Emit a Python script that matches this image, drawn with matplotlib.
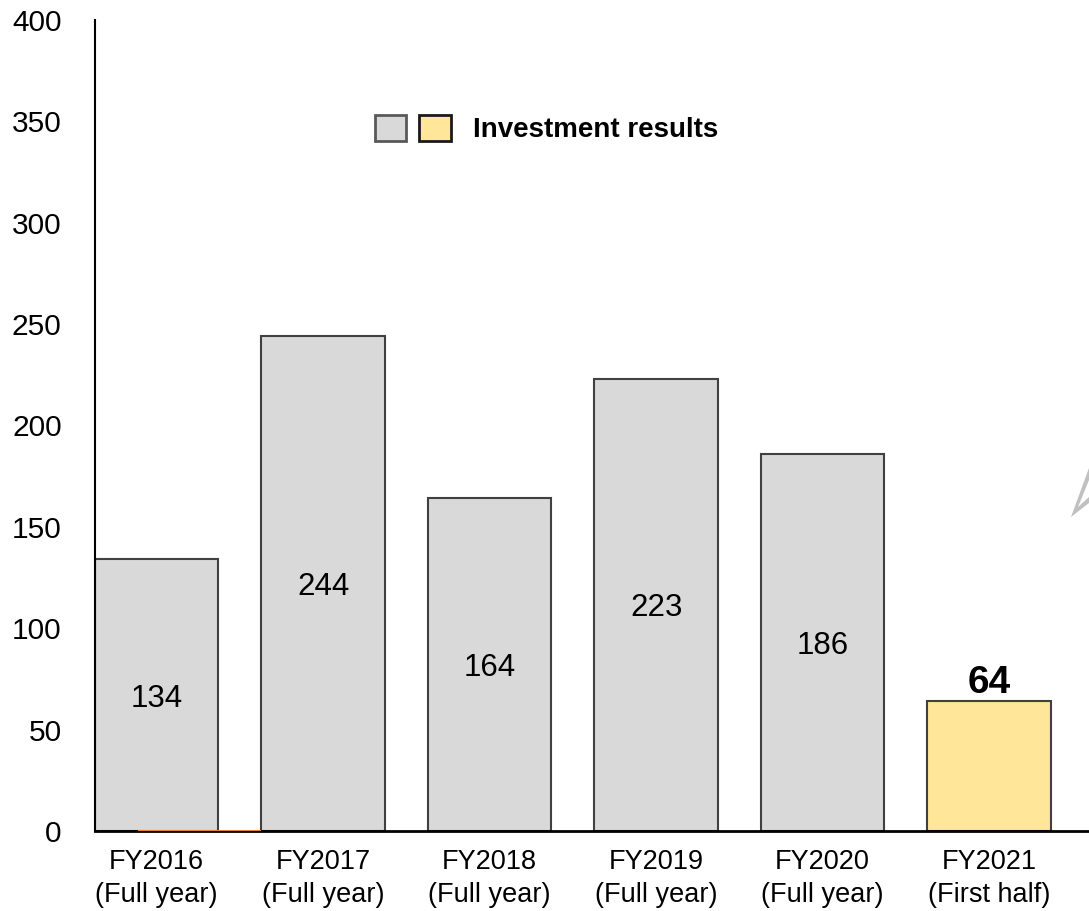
import matplotlib.pyplot as plt
from matplotlib.patches import Patch, Polygon
from matplotlib.legend_handler import HandlerTuple

plt.rcParams['font.family'] = ['Liberation Sans', 'DejaVu Sans']

years = ['FY2016', 'FY2017', 'FY2018', 'FY2019', 'FY2020', 'FY2021']
periods = ['(Full year)', '(Full year)', '(Full year)', '(Full year)', '(Full year)', '(First half)']
results = [134, 244, 164, 223, 186, 64]
other = [0.6, 0, 0, 0, 0, 0]   # thin orange sliver next to FY2016

grey = '#d9d9d9'
yellow = '#ffe699'
edge = '#404040'

fig = plt.figure(figsize=(10.89, 9.11), dpi=100)
ax = fig.add_axes([95 / 1089, 80 / 911, 994 / 1089, 811 / 911])

x = list(range(len(years)))
colors = [grey] * 5 + [yellow]
ax.bar(x, results, width=0.74, color=colors, edgecolor=edge, linewidth=1.5, zorder=2)
ax.bar([i + 0.26 for i in x], other, width=0.74, color='#ed7d31', linewidth=0, zorder=3)

for i, v in enumerate(results):
    if i < 5:
        ax.text(i, v / 2, str(v), ha='center', va='center_baseline', fontsize=22.5, zorder=4)
    else:
        ax.text(i, v + 4, str(v), ha='center', va='baseline', fontsize=28,
                fontweight='bold', zorder=4)

ax.set_xlim(-0.37, 5.6)
ax.set_ylim(0, 400)
ax.set_yticks(range(0, 401, 50))
ax.set_xticks(x)
ax.set_xticklabels([f'{y}\n{p}' for y, p in zip(years, periods)], fontsize=19.5,
                   linespacing=1.35)
ax.tick_params(axis='y', length=0, pad=24, labelsize=21.5)
ax.tick_params(axis='x', length=0, pad=13)
ax.spines['top'].set_visible(False)
ax.spines['right'].set_visible(False)
ax.spines['left'].set_linewidth(1.5)
ax.spines['bottom'].set_linewidth(2)

h1 = Patch(facecolor=grey, edgecolor='#595959', linewidth=2)
h2 = Patch(facecolor=yellow, edgecolor='#1a1a1a', linewidth=2)
fig.legend(handles=[(h1, h2)], labels=['Investment results'],
           handler_map={tuple: HandlerTuple(ndivide=None, pad=0.47)},
           loc='center left', bbox_to_anchor=(375 / 1089, 1 - 129 / 911),
           bbox_transform=fig.transFigure, frameon=False, borderpad=0,
           borderaxespad=0, handlelength=2.73, handleheight=1.08,
           handletextpad=0.79, prop={'size': 20, 'weight': 'bold'})

# clipped grey arrow shape at right edge
pts = [(1071, 517), (1089, 468), (1089, 480), (1078, 507), (1089, 497), (1089, 503)]
fig.patches.append(Polygon([(px / 1089, 1 - py / 911) for px, py in pts],
                           closed=True, facecolor='#c0c0c0', edgecolor='none',
                           transform=fig.transFigure))

fig.savefig('out.png', dpi=100)
